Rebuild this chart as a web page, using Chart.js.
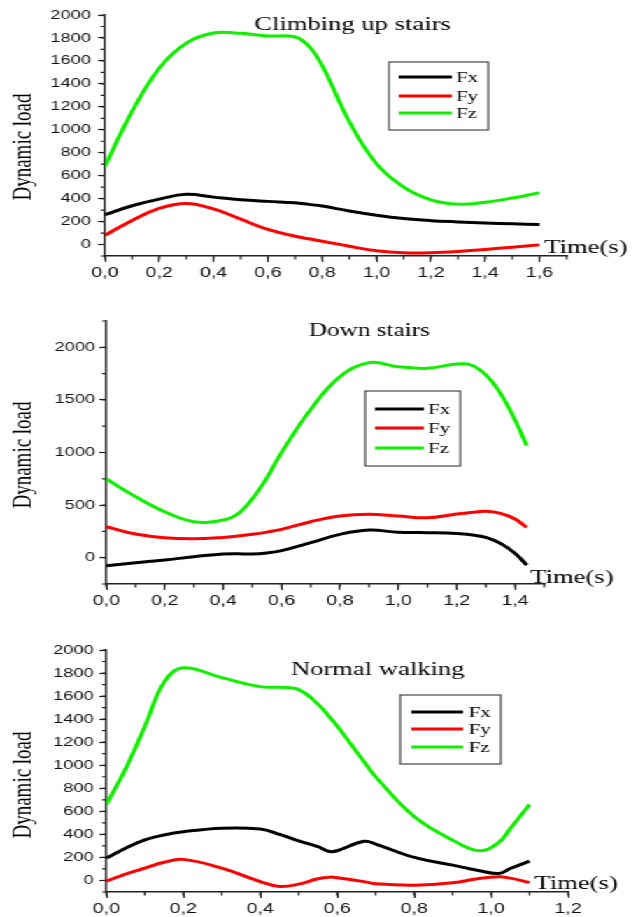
<!DOCTYPE html>
<html>
<head>
<meta charset="utf-8">
<script src="https://cdn.jsdelivr.net/npm/chart.js@4.4.1/dist/chart.umd.min.js"></script>
<style>
  html, body { margin: 0; padding: 0; background: #fff; overflow: hidden; }
  /* the reference figure is stretched sideways, so the whole page is too */
  #page { position: absolute; left: 0; top: 0; width: 456px; height: 917px; transform: scaleX(1.3991); transform-origin: 0 0; }
  .box { position: absolute; left: 0; width: 456px; }
</style>
</head>
<body>
<div id="page">
  <div class="box" style="top:0;height:295px"><canvas id="c1"></canvas></div>
  <div class="box" style="top:295px;height:320px"><canvas id="c2"></canvas></div>
  <div class="box" style="top:615px;height:302px"><canvas id="c3"></canvas></div>
</div>
<script>
const seriesNames = ['Fx', 'Fy', 'Fz'];
const seriesColors = ['#000000', '#ff0000', '#11ee00'];

// Climbing up stairs
const upTime = [0, 0.1, 0.2, 0.3, 0.4, 0.5, 0.6, 0.7, 0.75, 0.8, 0.9, 1.0, 1.1, 1.2, 1.3, 1.4, 1.5, 1.6];
const upFx = [260, 338, 396, 437, 413, 390, 376, 364, 350, 335, 292, 255, 226, 208, 197, 188, 180, 174];
const upFy = [80, 210, 316, 358, 310, 221, 131, 72, 50, 29, -15, -55, -72, -72, -61, -43, -23, -3];
const upFz = [683, 1160, 1537, 1755, 1843, 1840, 1818, 1808, 1730, 1560, 1070, 703, 500, 390, 352, 368, 405, 452];
const upXTicks = [0, 0.2, 0.4, 0.6, 0.8, 1.0, 1.2, 1.4, 1.6];
const upYTicks = [0, 200, 400, 600, 800, 1000, 1200, 1400, 1600, 1800, 2000];

// Down stairs
const downTime = [0, 0.1, 0.2, 0.3, 0.4, 0.45, 0.5, 0.55, 0.6, 0.7, 0.8, 0.9, 1.0, 1.1, 1.2, 1.25, 1.3, 1.35, 1.4, 1.44];
const downFx = [-76, -48, -22, 10, 35, 38, 35, 45, 67, 143, 222, 263, 241, 238, 231, 218, 193, 136, 41, -70];
const downFy = [295, 225, 190, 181, 193, 206, 222, 243, 269, 342, 396, 412, 396, 380, 415, 430, 441, 422, 368, 288];
const downFz = [748, 580, 437, 342, 358, 415, 560, 760, 1000, 1410, 1721, 1854, 1816, 1800, 1842, 1832, 1737, 1563, 1309, 1065];
const downXTicks = [0, 0.2, 0.4, 0.6, 0.8, 1.0, 1.2, 1.4];
const downYTicks = [0, 500, 1000, 1500, 2000];

// Normal walking
const walkTime = [0, 0.05, 0.1, 0.15, 0.2, 0.3, 0.4, 0.45, 0.5, 0.55, 0.58, 0.6, 0.67, 0.7, 0.8, 0.9, 0.97, 1.02, 1.05, 1.1];
const walkFx = [194, 280, 353, 395, 423, 454, 446, 400, 344, 293, 252, 258, 340, 316, 200, 133, 85, 61, 104, 168];
const walkFy = [-6, 55, 107, 158, 183, 107, -9, -52, -32, 15, 29, 24, -10, -29, -41, -20, 18, 32, 20, -17];
const walkFz = [660, 970, 1337, 1720, 1845, 1760, 1682, 1676, 1656, 1530, 1420, 1340, 1030, 900, 555, 350, 258, 330, 450, 660];
const walkXTicks = [0, 0.2, 0.4, 0.6, 0.8, 1.0, 1.2];
const walkYTicks = [0, 200, 400, 600, 800, 1000, 1200, 1400, 1600, 1800, 2000];

const sansFont = '"Liberation Sans", Arial, sans-serif';
const serifFont = '"Liberation Serif", "Times New Roman", serif';

function pts(t, v) {
  return t.map((x, i) => ({ x: x, y: v[i] }));
}

// titles, axis names, legend box and minor ticks
function decor(o) {
  return {
    id: 'decor',
    afterDraw(chart) {
      const ctx = chart.ctx, xs = chart.scales.x, ys = chart.scales.y, a = chart.chartArea;
      ctx.save();
      ctx.strokeStyle = '#222';
      ctx.lineWidth = 1.2;
      ctx.beginPath();
      for (let v = xs.min; v <= xs.max + 1e-9; v += o.xMinor) {
        const p = xs.getPixelForValue(v);
        ctx.moveTo(p, a.bottom);
        ctx.lineTo(p, a.bottom + 3.5);
      }
      for (let v = ys.min; v <= ys.max + 1e-9; v += o.yMinor) {
        const p = ys.getPixelForValue(v);
        ctx.moveTo(a.left, p);
        ctx.lineTo(a.left - 3, p);
      }
      ctx.stroke();

      ctx.fillStyle = '#000';
      ctx.textBaseline = 'alphabetic';
      ctx.font = o.titleSize + 'px ' + serifFont;
      ctx.textAlign = 'center';
      ctx.fillText(o.title, o.titleX, o.titleY);
      ctx.font = '19px ' + serifFont;
      ctx.textAlign = 'left';
      ctx.fillText('Time(s)', o.timeX, o.timeY);

      // legend
      const L = o.legend;
      ctx.fillStyle = '#fff';
      ctx.fillRect(L.x, L.y, L.w, L.h);
      ctx.strokeStyle = '#222';
      ctx.lineWidth = 1;
      ctx.strokeRect(L.x, L.y, L.w, L.h);
      ctx.font = '15px ' + serifFont;
      ctx.textBaseline = 'middle';
      seriesNames.forEach((name, i) => {
        ctx.strokeStyle = seriesColors[i];
        ctx.lineWidth = 3;
        ctx.beginPath();
        ctx.moveTo(L.lx1, L.rows[i]);
        ctx.lineTo(L.lx2, L.rows[i]);
        ctx.stroke();
        ctx.fillStyle = '#000';
        ctx.fillText(name, L.tx, L.rows[i] + 1);
      });

      ctx.translate(17, o.yTitleY);
      ctx.rotate(-Math.PI / 2);
      ctx.textAlign = 'center';
      ctx.font = '19px ' + serifFont;
      ctx.fillText('Dynamic load', 0, 0);
      ctx.restore();
    }
  };
}

function buildChart(id, o) {
  const values = [o.fx, o.fy, o.fz];
  new Chart(document.getElementById(id), {
    type: 'line',
    data: {
      datasets: seriesNames.map((name, i) => ({
        label: name,
        data: pts(o.time, values[i]),
        borderColor: seriesColors[i],
        borderWidth: 3,
        pointRadius: 0,
        tension: 0.4,
        fill: false
      }))
    },
    options: {
      responsive: true,
      maintainAspectRatio: false,
      animation: false,
      layout: { padding: { top: o.padTop, right: o.padRight, left: 0, bottom: 0 } },
      plugins: { legend: { display: false }, tooltip: { enabled: false }, title: { display: false } },
      scales: {
        x: {
          type: 'linear',
          min: 0,
          max: o.xMax,
          afterFit: s => { s.height = o.xHeight; },
          afterBuildTicks: s => { s.ticks = o.xTicks.map(v => ({ value: v })); },
          grid: { drawOnChartArea: false, tickLength: 6, tickColor: '#222', tickWidth: 1.2 },
          border: { color: '#222', width: 1.5 },
          ticks: {
            padding: 3,
            color: '#111',
            maxRotation: 0,
            autoSkip: false,
            font: { family: sansFont, size: 14 },
            callback: v => Number(v).toFixed(1).replace('.', ',')
          }
        },
        y: {
          min: o.yMin,
          max: o.yMax,
          afterFit: s => { s.width = o.yWidth; },
          afterBuildTicks: s => { s.ticks = o.yTicks.map(v => ({ value: v })); },
          grid: { drawOnChartArea: false, tickLength: 5, tickColor: '#222', tickWidth: 1.2 },
          border: { color: '#222', width: 1.5 },
          ticks: {
            padding: o.yPad,
            color: '#111',
            autoSkip: false,
            font: { family: sansFont, size: 13 },
            callback: v => String(v)
          }
        }
      }
    },
    plugins: [decor(o)]
  });
}

buildChart('c1', {
  time: upTime, fx: upFx, fy: upFy, fz: upFz,
  xTicks: upXTicks, yTicks: upYTicks, xMax: 1.7, yMin: -100, yMax: 2000,
  xMinor: 0.1, yMinor: 100,
  padTop: 15, padRight: 51, xHeight: 39, yWidth: 75, yPad: 5,
  title: 'Climbing up stairs', titleSize: 19, titleX: 252, titleY: 30,
  timeX: 389, timeY: 253, yTitleY: 147,
  legend: { x: 278, y: 62, w: 71, h: 68, lx1: 285, lx2: 323, tx: 326, rows: [77, 96, 113] }
});

buildChart('c2', {
  time: downTime, fx: downFx, fy: downFy, fz: downFz,
  xTicks: downXTicks, yTicks: downYTicks, xMax: 1.5, yMin: -250, yMax: 2250,
  xMinor: 0.1, yMinor: 250,
  padTop: 26, padRight: 67, xHeight: 31, yWidth: 76, yPad: 3,
  title: 'Down stairs', titleSize: 18, titleX: 264, titleY: 41,
  timeX: 379, timeY: 288, yTitleY: 160,
  legend: { x: 261, y: 96, w: 68, h: 75, lx1: 268, lx2: 303, tx: 306, rows: [114, 133, 153] }
});

buildChart('c3', {
  time: walkTime, fx: walkFx, fy: walkFy, fz: walkFz,
  xTicks: walkXTicks, yTicks: walkYTicks, xMax: 1.2, yMin: -100, yMax: 2000,
  xMinor: 0.1, yMinor: 100,
  padTop: 35, padRight: 50, xHeight: 25, yWidth: 76, yPad: 4,
  title: 'Normal walking', titleSize: 19, titleX: 270, titleY: 60,
  timeX: 382, timeY: 274, yTitleY: 170,
  legend: { x: 286, y: 80, w: 72, h: 69, lx1: 294, lx2: 331, tx: 335, rows: [97, 114, 132] }
});
</script>
</body>
</html>
